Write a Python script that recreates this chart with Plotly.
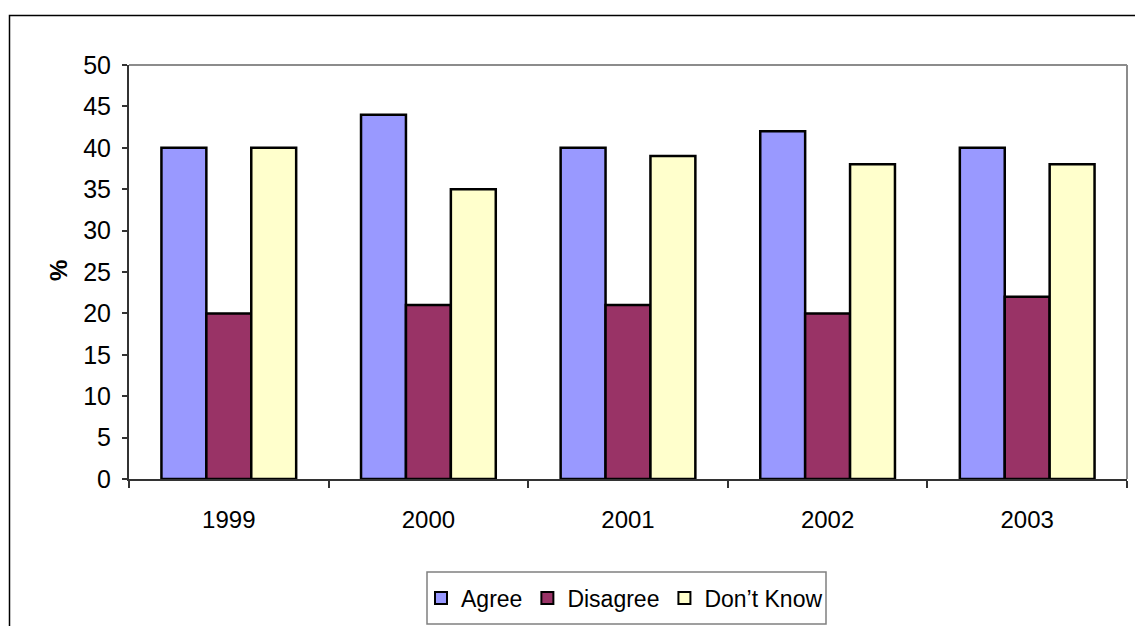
import plotly.graph_objects as go

# Survey responses by year (%)
years = ["1999", "2000", "2001", "2002", "2003"]
agree = [40, 44, 40, 42, 40]
disagree = [20, 21, 21, 20, 22]
dont_know = [40, 35, 39, 38, 38]

series_names = ["Agree", "Disagree", "Don\u2019t Know"]
series_colors = ["#9999FF", "#993366", "#FFFFCC"]

W, H = 1135, 626
FONT = "Liberation Sans, Arial, sans-serif"

# plot area in pixels
px_left, px_right, px_top, px_bottom = 129, 1127, 65, 479
# legend frame in pixels
lg_left, lg_right, lg_top, lg_bottom = 427, 826, 572, 624

fig = go.Figure()
for name, vals, col in zip(series_names, [agree, disagree, dont_know], series_colors):
    fig.add_trace(go.Bar(
        x=years, y=vals, name=name,
        marker=dict(color=col, line=dict(color="#000000", width=2.5)),
    ))

fig.update_layout(
    width=W, height=H,
    margin=dict(l=0, r=0, t=0, b=0, autoexpand=False),
    paper_bgcolor="white", plot_bgcolor="white",
    barmode="group", bargap=0.325, bargroupgap=0,
    font=dict(family=FONT, size=24, color="#000000"),
    showlegend=True,
    legend=dict(
        orientation="h",
        x=(lg_left + lg_right) / 2 / W - 2 / W, xanchor="center",
        y=(H - (lg_top + lg_bottom) / 2) / H, yanchor="middle",
        borderwidth=0,
        bgcolor="rgba(0,0,0,0)",
        font=dict(family=FONT, size=23),
        itemsizing="constant",
        tracegroupgap=0,
    ),
    xaxis=dict(
        domain=[px_left / W, px_right / W],
        type="category",
        showline=True, linecolor="#333333", linewidth=2,
        ticks="outside", tickson="boundaries", ticklen=7, tickwidth=1.5, tickcolor="#333333",
        showgrid=False, zeroline=False,
        ticklabelstandoff=18,
        automargin=False,
        tickfont=dict(family=FONT, size=24),
    ),
    yaxis=dict(
        domain=[(H - px_bottom) / H, (H - px_top) / H],
        range=[0, 50], dtick=5, tick0=0,
        showline=True, linecolor="#333333", linewidth=2,
        ticks="outside", ticklen=5, tickwidth=1.5, tickcolor="#333333",
        showgrid=False, zeroline=False,
        ticklabelstandoff=6,
        automargin=False,
        tickfont=dict(family=FONT, size=25),
    ),
    annotations=[
        dict(text="<b>%</b>", xref="paper", yref="paper",
             x=58 / W, y=(H - 271) / H, xanchor="center", yanchor="middle",
             textangle=-90, showarrow=False,
             font=dict(family=FONT, size=24)),
    ],
    shapes=[
        # plot-area border (top and right edges)
        dict(type="line", xref="paper", yref="paper",
             x0=px_left / W, x1=px_right / W, y0=(H - px_top) / H, y1=(H - px_top) / H,
             line=dict(color="#8c8c8c", width=2)),
        dict(type="line", xref="paper", yref="paper",
             x0=px_right / W, x1=px_right / W, y0=(H - px_top) / H, y1=(H - px_bottom) / H,
             line=dict(color="#8c8c8c", width=2)),
        # chart-area frame
        dict(type="rect", xref="paper", yref="paper",
             x0=9.5 / W, x1=1.05, y0=(H - 15.5) / H, y1=-0.05,
             line=dict(color="#000000", width=1.5), layer="below"),
        # legend frame
        dict(type="rect", xref="paper", yref="paper",
             x0=lg_left / W, x1=lg_right / W, y0=(H - lg_top) / H, y1=(H - lg_bottom) / H,
             line=dict(color="#808080", width=1.5), fillcolor="white", layer="below"),
    ],
)

fig.write_html("out.html")
